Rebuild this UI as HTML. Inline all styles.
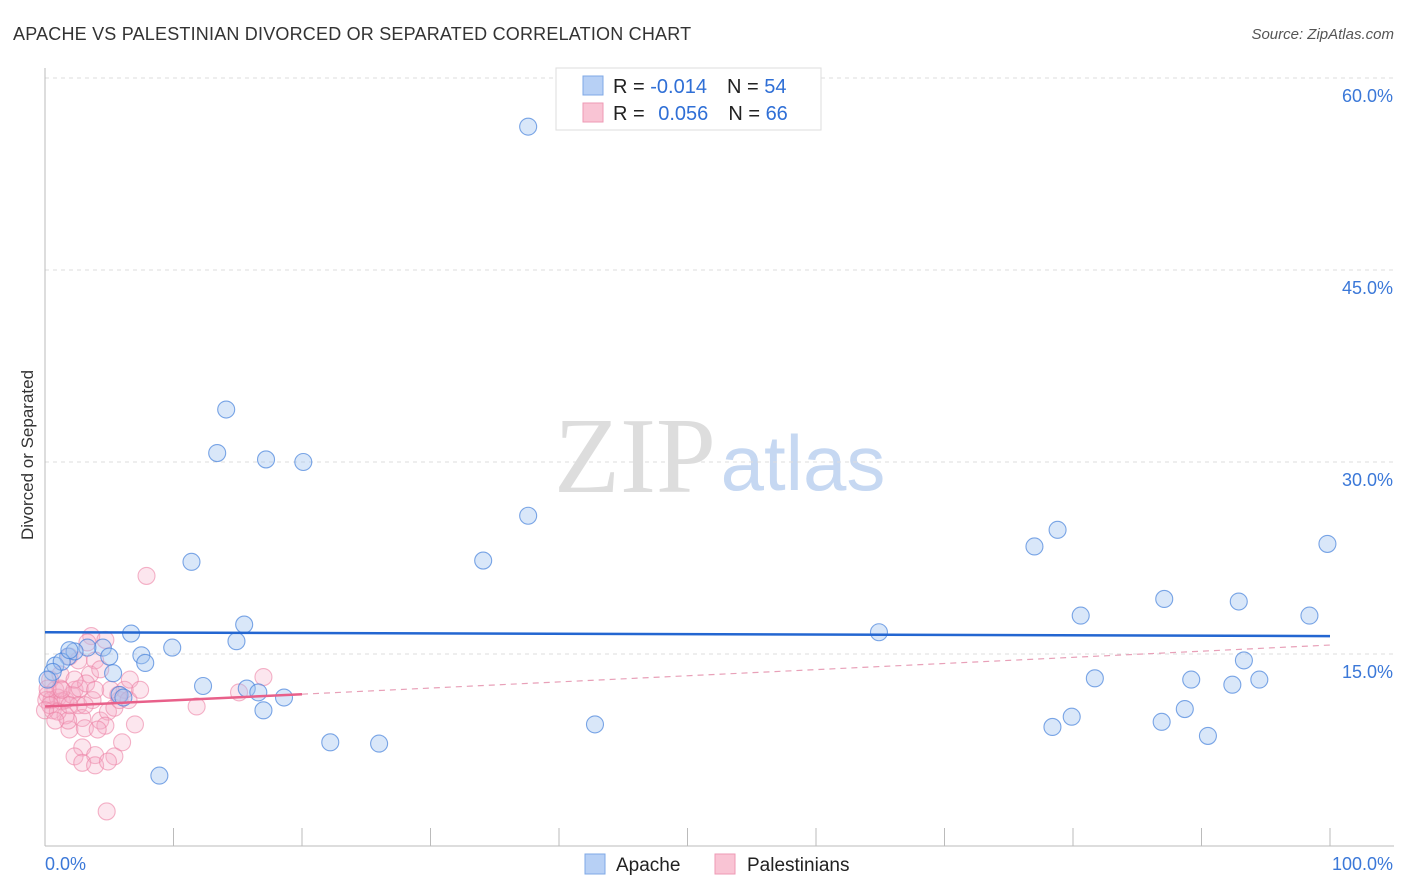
<!DOCTYPE html>
<html><head><meta charset="utf-8">
<style>
body{margin:0;background:#fff;font-family:"Liberation Sans",sans-serif;}
#wrap{position:relative;width:1406px;height:892px;overflow:hidden;}
</style></head>
<body>
<div id="wrap">
<svg id="chart" width="1406" height="892" xmlns="http://www.w3.org/2000/svg">
<text x="13" y="40" font-size="18" letter-spacing="0.2" fill="#333">APACHE VS PALESTINIAN DIVORCED OR SEPARATED CORRELATION CHART</text>
<text x="1394" y="39" font-size="15" fill="#555" font-style="italic" text-anchor="end">Source: ZipAtlas.com</text>
<text x="33" y="455" font-size="17" fill="#333" text-anchor="middle" transform="rotate(-90 33 455)">Divorced or Separated</text>
<g>
<text x="635" y="492" font-size="108" fill="#ddd" font-family="Liberation Serif,serif" text-anchor="middle">ZIP</text>
<text x="803" y="490" font-size="78" fill="#c6d8f2" text-anchor="middle">atlas</text>
</g>
<g id="grid"></g><g id="axes"></g><g id="pts"></g><g id="trend"></g>
<g>
<rect x="556" y="68" width="265" height="62" fill="#fff" stroke="#ddd"/>
<rect x="583" y="76" width="20" height="19" fill="#b7d0f5" stroke="#7fa8e6"/>
<rect x="583" y="103" width="20" height="19" fill="#f9c4d4" stroke="#ee9ab4"/>
<text x="613" y="93" font-size="20" fill="#222">R = <tspan fill="#2f6fd6">-0.014</tspan><tspan dx="20">N = </tspan><tspan fill="#2f6fd6">54</tspan></text>
<text x="613" y="120" font-size="20" fill="#222">R = <tspan fill="#2f6fd6" dx="8">0.056</tspan><tspan dx="20">N = </tspan><tspan fill="#2f6fd6">66</tspan></text>
</g>
<g>
<rect x="585" y="854" width="20" height="20" fill="#b7d0f5" stroke="#7fa8e6"/>
<text x="616" y="871" font-size="19" fill="#222">Apache</text>
<rect x="715" y="854" width="20" height="20" fill="#f9c4d4" stroke="#ee9ab4"/>
<text x="747" y="871" font-size="19" fill="#222">Palestinians</text>
</g>
</svg>
</div>
<script>
const yTicks=[15,30,45,60];
const yTickLabels=["15.0%","30.0%","45.0%","60.0%"];
const xEndLabels=["0.0%","100.0%"];
const apacheX=[37.6,14.1,13.4,17.2,20.1,37.6,34.1,11.4,15.5,6.7,14.9,9.9,7.5,7.8,4.5,3.3,1.8,2.3,0.8,1.3,5.0,5.3,12.3,15.7,16.6,5.8,6.1,17.0,18.6,22.2,26.0,8.9,42.8,64.9,77.0,78.8,99.8,80.6,87.1,92.9,98.4,93.3,81.7,89.2,92.4,94.5,79.9,78.4,86.9,88.7,90.5,0.6,0.2,1.9];
const apacheY=[56.2,34.1,30.7,30.2,30.0,25.8,22.3,22.2,17.3,16.6,16.0,15.5,14.9,14.3,15.5,15.5,14.8,15.2,14.1,14.4,14.8,13.5,12.5,12.3,12.0,11.8,11.6,10.6,11.6,8.1,8.0,5.5,9.5,16.7,23.4,24.7,23.6,18.0,19.3,19.1,18.0,14.5,13.1,13.0,12.6,13.0,10.1,9.3,9.7,10.7,8.6,13.6,13.0,15.3];
const palX=[7.9,3.6,3.3,3.9,1.9,2.6,0.4,0.8,0.2,0.5,1.0,1.3,1.6,2.1,1.2,2.3,2.7,3.5,4.3,3.2,0.6,1.6,2.6,3.7,2.9,4.3,4.9,5.4,5.8,6.2,6.6,5.7,4.7,1.9,3.1,4.1,7.0,6.0,2.9,2.3,3.9,5.4,2.9,3.9,4.9,4.8,11.8,15.1,17.0,1.2,0.1,0.4,1.0,0.0,1.8,5.1,3.9,3.1,6.5,7.4,0.8,2.3,4.7,0.2,1.3,1.9];
const palY=[21.1,16.4,15.9,14.5,14.8,14.5,13.0,12.2,11.8,11.4,11.6,11.3,11.4,11.8,12.3,12.2,12.3,13.4,13.8,12.7,10.6,10.2,11.0,11.4,10.0,9.8,10.5,10.8,11.4,12.2,13.0,11.8,9.4,9.1,9.2,9.1,9.5,8.1,7.7,7.0,7.1,7.0,6.5,6.3,6.6,2.7,10.9,12.0,13.2,13.4,11.4,11.0,10.5,10.6,9.8,12.2,12.2,11.0,11.4,12.2,9.8,13.0,16.1,12.3,12.2,11.0];
const apacheTrend=[16.7,16.4];
const palTrend=[10.9,15.7];
const palSolidEnd=20;

const NS="http://www.w3.org/2000/svg";
const X=v=>45+v*12.85;
const Y=v=>846-v*12.8;
function mk(tag,attrs,parent){const e=document.createElementNS(NS,tag);for(const k in attrs)e.setAttribute(k,attrs[k]);parent.appendChild(e);return e;}
const grid=document.getElementById('grid'),axes=document.getElementById('axes'),pts=document.getElementById('pts'),trend=document.getElementById('trend');
yTicks.forEach((t,i)=>{
  const l=mk('line',{x1:45,x2:1394,y1:Y(t),y2:Y(t),stroke:'#ddd','stroke-dasharray':'4,4'},grid);
  
  
  const tx=mk('text',{x:1393,y:Y(t)+24,'font-size':18,fill:'#3b78d8','text-anchor':'end'},axes);
  tx.textContent=yTickLabels[i];
  
  
});
const la=mk('line',{x1:45,x2:45,y1:68,y2:846,stroke:'#bbb'},axes);


const lb=mk('line',{x1:45,x2:1394,y1:846,y2:846,stroke:'#bbb'},axes);


for(let i=1;i<=10;i++){const t=mk('line',{x1:X(i*10),x2:X(i*10),y1:828,y2:846,stroke:'#bbb'},axes);
  
  }
const x0=mk('text',{x:45,y:870,'font-size':18,fill:'#3b78d8'},axes);x0.textContent=xEndLabels[0];


const x1=mk('text',{x:1393,y:870,'font-size':18,fill:'#3b78d8','text-anchor':'end'},axes);x1.textContent=xEndLabels[1];


palX.forEach((v,i)=>{const c=mk('circle',{cx:X(v),cy:Y(palY[i]),r:8.5,fill:'rgba(246,172,198,0.3)',stroke:'rgba(236,130,165,0.6)','stroke-width':1.1},pts);
  
  });
apacheX.forEach((v,i)=>{const c=mk('circle',{cx:X(v),cy:Y(apacheY[i]),r:8.5,fill:'rgba(160,196,240,0.4)',stroke:'rgba(70,130,220,0.7)','stroke-width':1.1},pts);
  
  });
const at=mk('line',{x1:X(0),x2:X(100),y1:Y(apacheTrend[0]),y2:Y(apacheTrend[1]),stroke:'#2366d1','stroke-width':2.5},trend);


const pm=palTrend[0]+(palTrend[1]-palTrend[0])*palSolidEnd/100;
const pt=mk('line',{x1:X(0),x2:X(palSolidEnd),y1:Y(palTrend[0]),y2:Y(pm),stroke:'#e8608a','stroke-width':2.5},trend);


const pd=mk('line',{x1:X(palSolidEnd),x2:X(100),y1:Y(pm),y2:Y(palTrend[1]),stroke:'#e8a0b8','stroke-width':1.2,'stroke-dasharray':'6,5'},trend);


</script>
</body></html>
